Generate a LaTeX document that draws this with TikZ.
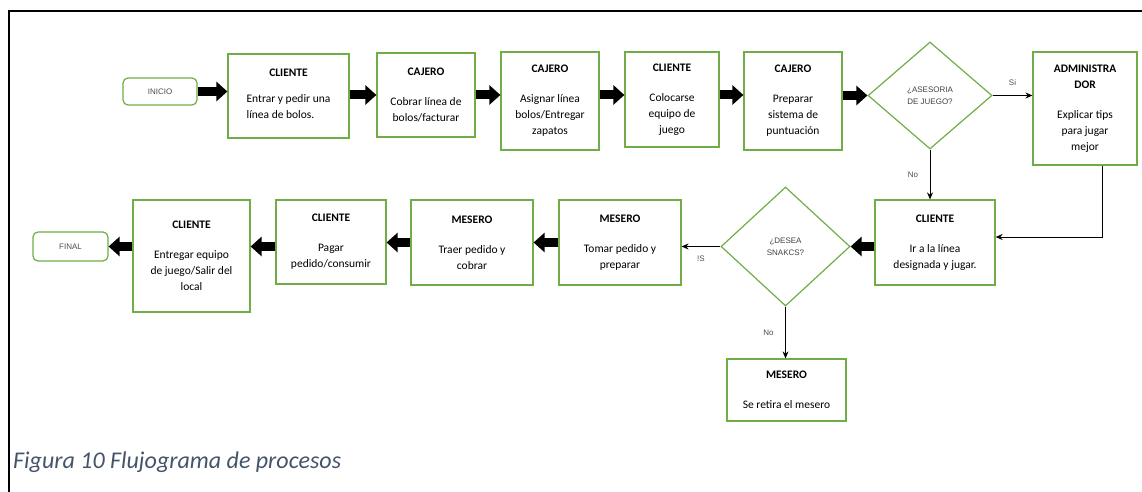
\documentclass[tikz,border=0pt]{standalone}
\usepackage{fontspec}
\setmainfont{Carlito}
\newfontfamily\arialfont{Liberation Sans}
\usetikzlibrary{arrows.meta,shapes.geometric}
\definecolor{verde}{HTML}{70AD47}
\definecolor{titulo}{HTML}{44546A}
\tikzset{>={Stealth[length=7pt,width=6pt]}}
\tikzset{
  caja/.style={draw=verde, line width=1.2pt, align=center, inner sep=2pt,
    font=\fontsize{11.5}{16}\selectfont},
  term/.style={draw=verde, line width=1.2pt, rounded corners=5pt, text=black!70,
    font=\arialfont\fontsize{8}{10}\selectfont},
  rombo/.style={diamond, draw=verde, line width=1.2pt, align=center, inner sep=0pt,
    text=black!75, font=\arialfont\fontsize{8}{12}\selectfont},
  gruesa/.style={line width=9pt, -{Triangle[length=11pt,width=19pt]}},
  fina/.style={line width=1pt, ->},
  etq/.style={text=black!70, font=\arialfont\fontsize{8}{10}\selectfont}
}

\begin{document}
\begin{tikzpicture}[x=1pt, y=-1pt]
    \useasboundingbox (0,0) rectangle (1142,492);
    \draw[line width=2.5pt] (9,492) -- (9,11) -- (1142,11);

    % fila superior
    \node[term, minimum width=74pt, minimum height=27pt] (inicio) at (160,91.5) {INICIO};
    \node[caja, minimum width=121pt, minimum height=84pt] (cli1) at (288.5,96)
        {\textbf{CLIENTE}\\[14pt]\begin{tabular}{@{}l@{}}Entrar y pedir una\\línea de bolos.\end{tabular}};
    \node[caja, minimum width=98pt, minimum height=84pt] (caj1) at (426,95)
        {\textbf{CAJERO}\\[14pt]Cobrar línea de\\bolos/facturar};
    \node[caja, minimum width=98pt, minimum height=98pt] (caj2) at (550,101)
        {\textbf{CAJERO}\\[14pt]Asignar línea\\bolos/Entregar\\zapatos};
    \node[caja, minimum width=94pt, minimum height=95pt] (cli2) at (672,99.5)
        {\textbf{CLIENTE}\\[14pt]Colocarse\\equipo de\\juego};
    \node[caja, minimum width=98pt, minimum height=98pt] (caj3) at (793,101)
        {\textbf{CAJERO}\\[14pt]Preparar\\sistema de\\puntuación};
    \node[rombo, minimum width=124pt, minimum height=107pt] (dia1) at (930,95.5)
        {¿ASESORIA\\DE JUEGO?};
    \node[caja, minimum width=104pt, minimum height=113pt] (admin) at (1085,108.5)
        {\textbf{ADMINISTRA}\\\textbf{DOR}\\[14pt]Explicar tips\\para jugar\\mejor};

    % fila inferior
    \node[caja, minimum width=120pt, minimum height=85pt] (cli3) at (935,242.5)
        {\textbf{CLIENTE}\\[14pt]Ir a la línea\\designada y jugar.};
    \node[rombo, minimum width=129pt, minimum height=119pt] (dia2) at (785.5,246.5)
        {¿DESEA\\SNAKCS?};
    \node[caja, minimum width=122pt, minimum height=85pt] (mes2) at (620,242.5)
        {\textbf{MESERO}\\[14pt]Tomar pedido y\\preparar};
    \node[caja, minimum width=122pt, minimum height=85pt] (mes1) at (472,242.5)
        {\textbf{MESERO}\\[14pt]Traer pedido y\\cobrar};
    \node[caja, minimum width=110pt, minimum height=84pt] (cli4) at (331,242)
        {\textbf{CLIENTE}\\[14pt]Pagar\\pedido/consumir};
    \node[caja, minimum width=117pt, minimum height=112pt] (cli5) at (191.5,256)
        {\textbf{CLIENTE}\\[14pt]Entregar equipo\\de juego/Salir del\\local};
    \node[term, minimum width=75pt, minimum height=29pt] (final) at (70.5,246.5) {FINAL};
    \node[caja, minimum width=119pt, minimum height=62pt] (mes3) at (786.5,390)
        {\textbf{MESERO}\\[14pt]Se retira el mesero};

    \node[anchor=base west, inner sep=0pt, text=titulo, font=\itshape\fontsize{24}{28}\selectfont]
        (pie) at (13,468) {Figura 10 Flujograma de procesos};

    % flechas gruesas
    \draw[gruesa] (inicio.east) -- (inicio.east -| cli1.west);
    \draw[gruesa] (caj1.west -| cli1.east) -- (caj1.west);
    \draw[gruesa] (caj1.east) -- (caj1.east -| caj2.west);
    \draw[gruesa] (caj1.east -| caj2.east) -- (caj1.east -| cli2.west);
    \draw[gruesa] (caj1.east -| cli2.east) -- (caj1.east -| caj3.west);
    \draw[gruesa] (dia1.west -| caj3.east) -- (dia1.west);
    \draw[gruesa] (dia2.east -| cli3.west) -- (dia2.east);
    \draw[gruesa] (mes2.west) -- (mes2.west -| mes1.east);
    \draw[gruesa] (mes1.west) -- (mes1.west -| cli4.east);
    \draw[gruesa] (final.east -| cli4.west) -- (final.east -| cli5.east);
    \draw[gruesa] (final.east -| cli5.west) -- (final.east);

    % flechas finas
    \coordinate (codo) at (1102,237);
    \draw[fina] (dia1.east) -- (dia1.east -| admin.west) node[etq, midway, above=6pt] {Si};
    \draw[fina] (dia1.south) -- (dia1.south |- cli3.north) node[etq, midway, left=8pt] {No};
    \draw[fina] (admin.south -| codo) -- (codo) -- (codo -| cli3.east);
    \draw[fina] (dia2.west) -- (dia2.west -| mes2.east) node[etq, midway, below=6pt] {!S};
    \draw[fina] (dia2.south) -- (dia2.south |- mes3.north) node[etq, midway, left=8pt] {No};
\end{tikzpicture}
\end{document}
